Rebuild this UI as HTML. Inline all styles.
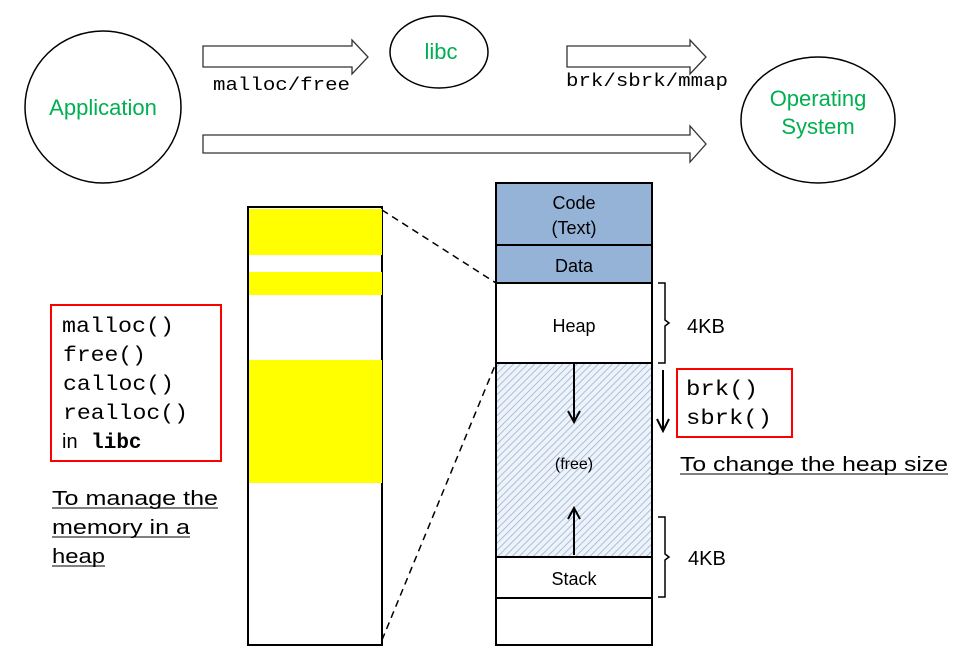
<!DOCTYPE html>
<html><head><style>body{margin:0;background:#fff}svg{display:block}</style></head>
<body>
<svg width="954" height="648" xmlns="http://www.w3.org/2000/svg">
<defs>
<pattern id="h" width="5" height="5" patternUnits="userSpaceOnUse" patternTransform="rotate(45)">
<rect width="5" height="5" fill="#eef3fa"/><line x1="0" y1="0" x2="0" y2="5" stroke="#a9bfdc" stroke-width="2"/>
</pattern>
</defs>
<g fill="#fff" stroke="#000" stroke-width="1.5">
<ellipse cx="103" cy="107" rx="78" ry="76"/>
<ellipse cx="439" cy="52" rx="49" ry="36"/>
<ellipse cx="818" cy="120" rx="77" ry="63"/>
</g>
<g fill="#fff" stroke="#333" stroke-width="1.3">
<polygon points="203,46 352,46 352,40 368,57 352,74 352,67 203,67"/>
<polygon points="567,46 690,46 690,40 706,57 690,74 690,67 567,67"/>
<polygon points="203,135 690,135 690,126 706,144 690,162 690,153 203,153"/>
</g>
<g font-family="Liberation Sans, sans-serif" fill="#00b050" font-size="22" text-anchor="middle">
<text x="103" y="115">Application</text>
<text x="441" y="59">libc</text>
<text x="818" y="106">Operating</text>
<text x="818" y="134">System</text>
</g>
<g font-family="Liberation Mono, monospace" font-size="18">
<text x="213" y="90" textLength="137" lengthAdjust="spacingAndGlyphs">malloc/free</text>
<text x="566" y="86" textLength="162" lengthAdjust="spacingAndGlyphs">brk/sbrk/mmap</text>
</g>
<rect x="248" y="207" width="134" height="438" fill="#fff" stroke="#000" stroke-width="2"/>
<g fill="#ffff00">
<rect x="249" y="209" width="133" height="46"/>
<rect x="249" y="272" width="133" height="23"/>
<rect x="249" y="360" width="133" height="123"/>
</g>
<g stroke="#000" stroke-width="1.5" stroke-dasharray="7,5">
<line x1="382" y1="210" x2="496" y2="283"/>
<line x1="382" y1="640" x2="496" y2="363"/>
</g>
<g stroke="#000" stroke-width="2">
<rect x="496" y="183" width="156" height="62" fill="#95b3d7"/>
<rect x="496" y="245" width="156" height="38" fill="#95b3d7"/>
<rect x="496" y="283" width="156" height="80" fill="#fff"/>
<rect x="496" y="363" width="156" height="194" fill="url(#h)"/>
<rect x="496" y="557" width="156" height="41" fill="#fff"/>
<rect x="496" y="598" width="156" height="47" fill="#fff"/>
</g>
<g font-family="Liberation Sans, sans-serif" font-size="18" text-anchor="middle">
<text x="574" y="209">Code</text>
<text x="574" y="234">(Text)</text>
<text x="574" y="272">Data</text>
<text x="574" y="332">Heap</text>
<text x="574" y="469" font-size="16">(free)</text>
<text x="574" y="585">Stack</text>
</g>
<g stroke="#000" stroke-width="2" fill="none">
<line x1="574" y1="363" x2="574" y2="420"/>
<polyline points="568,411 574,422 580,411"/>
<line x1="574" y1="555" x2="574" y2="510"/>
<polyline points="568,519 574,508 580,519"/>
<line x1="663" y1="370" x2="663" y2="430"/>
<polyline points="657,419 663,431 669,419"/>
<path d="M658,283 h7 v37 l4,3 l-4,3 v37 h-7" stroke-width="1.5"/>
<path d="M658,517 h7 v37 l4,3 l-4,3 v37 h-7" stroke-width="1.5"/>
</g>
<g font-family="Liberation Sans, sans-serif" font-size="20">
<text x="687" y="333">4KB</text>
<text x="688" y="565">4KB</text>
<text x="680" y="471" textLength="268" lengthAdjust="spacingAndGlyphs">To change the heap size</text>
<line x1="680" y1="474" x2="948" y2="474" stroke="#000"/>
<text x="52" y="505" textLength="166" lengthAdjust="spacingAndGlyphs">To manage the</text>
<text x="52" y="534" textLength="138" lengthAdjust="spacingAndGlyphs">memory in a</text>
<text x="52" y="563" textLength="53" lengthAdjust="spacingAndGlyphs">heap</text>
<g stroke="#000"><line x1="52" y1="508" x2="218" y2="508"/><line x1="52" y1="537" x2="190" y2="537"/><line x1="52" y1="566" x2="105" y2="566"/></g>
</g>
<rect x="677" y="369" width="115" height="68" fill="none" stroke="#f00" stroke-width="2"/>
<rect x="51" y="305" width="170" height="156" fill="none" stroke="#f00" stroke-width="2"/>
<g font-family="Liberation Mono, monospace" font-size="21">
<text x="686" y="395" textLength="72" lengthAdjust="spacingAndGlyphs">brk()</text>
<text x="686" y="424" textLength="86" lengthAdjust="spacingAndGlyphs">sbrk()</text>
<text x="62" y="332" textLength="112" lengthAdjust="spacingAndGlyphs">malloc()</text>
<text x="63" y="361" textLength="83" lengthAdjust="spacingAndGlyphs">free()</text>
<text x="63" y="390" textLength="111" lengthAdjust="spacingAndGlyphs">calloc()</text>
<text x="63" y="419" textLength="125" lengthAdjust="spacingAndGlyphs">realloc()</text>
<text x="62" y="448"><tspan font-family="Liberation Sans, sans-serif" font-size="20">in </tspan><tspan font-weight="bold" dx="8">libc</tspan></text>
</g>
</svg>
</body></html>
